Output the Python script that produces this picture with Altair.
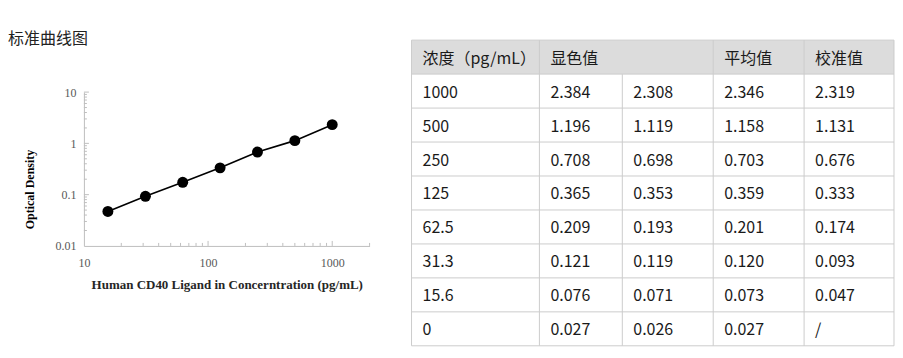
import altair as alt
import pandas as pd

# ---------------- data ----------------
curve_conc = [15.6, 31.3, 62.5, 125, 250, 500, 1000]
curve_od = [0.047, 0.093, 0.174, 0.333, 0.676, 1.131, 2.319]

headers = ["浓度（pg/mL）", "显色值", "", "平均值", "校准值"]
conc_labels = ["1000", "500", "250", "125", "62.5", "31.3", "15.6", "0"]
od1 = ["2.384", "1.196", "0.708", "0.365", "0.209", "0.121", "0.076", "0.027"]
od2 = ["2.308", "1.119", "0.698", "0.353", "0.193", "0.119", "0.071", "0.026"]
mean_vals = ["2.346", "1.158", "0.703", "0.359", "0.201", "0.120", "0.073", "0.027"]
corr_vals = ["2.319", "1.131", "0.676", "0.333", "0.174", "0.093", "0.047", "/"]

x_axis_labels = [10, 100, 1000]
y_axis_labels = [0.01, 0.1, 1, 10]

# ---------------- layout / style ----------------
PW = 286          # plot width
LH = 206          # left panel height (blank top part + log plot)
PLOT_TOP = 52     # where the log plot starts inside the left panel
SERIF = "Liberation Serif"
SANS = "Noto Sans CJK SC"
AXIS_C = "#bfbfbf"
LABEL_C = "#595959"

col_widths = [128, 83, 91, 91, 90]
ROW_H = 34
N_ROWS = 9
TW = sum(col_widths)
TH = ROW_H * N_ROWS

# ---------------- curve chart ----------------
df_curve = pd.DataFrame({"conc": curve_conc, "od": curve_od})
xs = alt.Scale(type="log", domain=[10, 2000], nice=False)
ys = alt.Scale(type="log", domain=[0.01, 10], nice=False, range=[LH, PLOT_TOP])

x_axis = alt.Axis(
    values=x_axis_labels, format="~g", ticks=False, tickSize=0, grid=False,
    domainColor=AXIS_C, domainWidth=1, labelFlush=False, labelOverlap=False,
    labelFont=SERIF, labelFontSize=12, labelColor=LABEL_C, labelPadding=12,
    title="Human CD40 Ligand in Concerntration (pg/mL)",
    titleFont=SERIF, titleFontSize=13, titleFontWeight="bold", titleColor="#262626",
    titleX=PW / 2, titleY=39, titleAlign="center", titleBaseline="middle",
)
y_axis = alt.Axis(
    values=y_axis_labels, format="~g", ticks=False, tickSize=0, grid=False,
    domainColor=AXIS_C, domainWidth=1, labelFlush=False, labelOverlap=False,
    labelFont=SERIF, labelFontSize=12, labelColor=LABEL_C, labelPadding=8,
    title="Optical Density",
    titleFont=SERIF, titleFontSize=12, titleFontWeight="bold", titleColor="#000000",
    titleX=-54, titleY=PLOT_TOP + 97, titleAlign="center", titleBaseline="middle",
    titleAngle=-90,
)

base = alt.Chart(df_curve)
line = base.mark_line(color="black", strokeWidth=1.6).encode(
    x=alt.X("conc:Q", scale=xs, axis=x_axis),
    y=alt.Y("od:Q", scale=ys, axis=y_axis),
)
pts = base.mark_circle(size=120, color="black", opacity=1).encode(
    x=alt.X("conc:Q", scale=xs), y=alt.Y("od:Q", scale=ys)
)

x_minor = [m * 10 ** k for k in (1, 2) for m in range(2, 10)] + [2000]
x_major = [100, 1000]
y_minor = [m * 10 ** k for k in (-2, -1, 0) for m in range(2, 10)]
y_major = [0.1, 1, 10]

xt_minor = alt.Chart(pd.DataFrame({"v": x_minor})).mark_rule(color=AXIS_C).encode(
    x=alt.X("v:Q", scale=xs), y=alt.value(LH), y2=alt.value(LH - 3))
xt_major = alt.Chart(pd.DataFrame({"v": x_major})).mark_rule(color=AXIS_C).encode(
    x=alt.X("v:Q", scale=xs), y=alt.value(LH), y2=alt.value(LH - 5))
yt_minor = alt.Chart(pd.DataFrame({"v": y_minor})).mark_rule(color=AXIS_C).encode(
    y=alt.Y("v:Q", scale=ys), x=alt.value(0), x2=alt.value(3))
yt_major = alt.Chart(pd.DataFrame({"v": y_major})).mark_rule(color=AXIS_C).encode(
    y=alt.Y("v:Q", scale=ys), x=alt.value(0), x2=alt.value(5))

title_txt = alt.Chart(pd.DataFrame({"t": ["标准曲线图"]})).mark_text(
    align="left", baseline="middle", font=SANS, fontSize=16, color="#222222"
).encode(text="t:N", x=alt.value(-76), y=alt.value(-1.5))

left = alt.layer(xt_minor, xt_major, yt_minor, yt_major, line, pts, title_txt).properties(
    width=PW, height=LH,
)

# ---------------- table chart ----------------
col_left = [sum(col_widths[:i]) for i in range(len(col_widths))]
col_edges = col_left + [TW]

cells = []
for c, h in enumerate(headers):
    if h:
        cells.append({"x": col_left[c] + 11, "y": 0.5, "t": h})
columns = [conc_labels, od1, od2, mean_vals, corr_vals]
for c, col in enumerate(columns):
    for r, v in enumerate(col):
        cells.append({"x": col_left[c] + 11, "y": r + 1.5, "t": v})
df_cells = pd.DataFrame(cells)

tx = alt.Scale(domain=[0, TW], nice=False, zero=False)
ty = alt.Scale(domain=[0, N_ROWS], reverse=True, nice=False, zero=False)

header_bg = alt.Chart(pd.DataFrame({"x0": [0], "x1": [TW], "y0": [0], "y1": [1]})).mark_rect(
    color="#dcdcdc").encode(
    x=alt.X("x0:Q", scale=tx, axis=None), x2="x1:Q",
    y=alt.Y("y0:Q", scale=ty, axis=None), y2="y1:Q")

hlines = alt.Chart(pd.DataFrame({"y": list(range(N_ROWS + 1)), "x0": 0, "x1": TW})).mark_rule(
    color="#cccccc", strokeWidth=1).encode(
    x=alt.X("x0:Q", scale=tx, axis=None), x2="x1:Q",
    y=alt.Y("y:Q", scale=ty, axis=None))

v_start = [0, 0, 1, 0, 0, 0]
vlines = alt.Chart(pd.DataFrame({"x": col_edges, "y0": v_start, "y1": N_ROWS})).mark_rule(
    color="#cccccc", strokeWidth=1).encode(
    x=alt.X("x:Q", scale=tx, axis=None),
    y=alt.Y("y0:Q", scale=ty, axis=None), y2="y1:Q")

texts = alt.Chart(df_cells).mark_text(
    align="left", baseline="middle", dy=1.5, font=SANS, fontSize=16, color="#1a1a1a").encode(
    x=alt.X("x:Q", scale=tx, axis=None),
    y=alt.Y("y:Q", scale=ty, axis=None),
    text="t:N")

table = alt.layer(header_bg, hlines, vlines, texts).properties(width=TW, height=TH)

chart = alt.hconcat(left, table, spacing=40).properties(
    padding={"left": 0, "top": 22, "right": 0, "bottom": 0}
).configure_view(stroke=None)

chart.save("out.html", embed_options={"renderer": "svg", "actions": False})
